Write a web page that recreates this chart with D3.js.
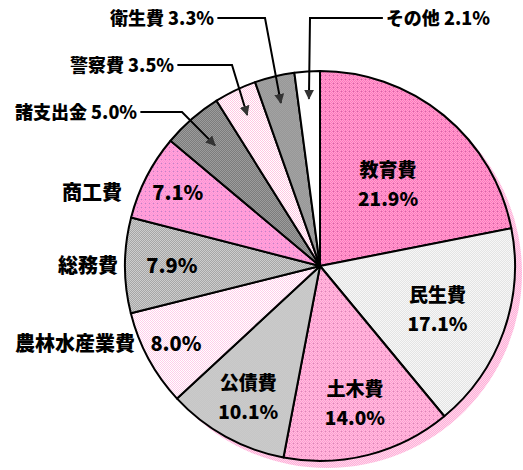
<!DOCTYPE html>
<html><head><meta charset="utf-8">
<script src="https://cdn.jsdelivr.net/npm/d3@7"></script>
<style>body{margin:0;background:#fff}svg{display:block}</style>
</head><body>
<svg id="c" width="523" height="470"></svg>
<script>
// data
const categories = ["教育費","民生費","土木費","公債費","農林水産業費","総務費","商工費","諸支出金","警察費","衛生費","その他"];
const values = [21.9,17.1,14.0,10.1,8.0,7.9,7.1,5.0,3.5,3.3,2.1];
const valueLabels = ["21.9%","17.1%","14.0%","10.1%","8.0%","7.9%","7.1%","5.0%","3.5%","3.3%","2.1%"];

const svg = d3.select("#c");
const cx = 320, cy = 266, R = 195;
const defs = svg.append("defs");
const pats = [
  ["#ff78bc","#ffa2d2","#c86aa6"],
  ["#e4e4e4","#f7f7f7",null],
  ["#ff9ccf","#ffbfe0","#d08ab6"],
  ["#c6c6c6","#cacaca",null],
  ["#ffffff","#ffcdea",null],
  ["#a6a6a6","#cdcdcd",null],
  ["#ff90d4","#ffa8dc","#b888c8"],
  ["#7c7c7c","#9c9c9c",null],
  ["#ffffff","#ffc6e2",null],
  ["#989898","#a2a2a2",null],
  ["#ffffff","#ffffff",null]
];
pats.forEach((p,i)=>{
  const pt = defs.append("pattern").attr("id","p"+i).attr("width",4).attr("height",4).attr("patternUnits","userSpaceOnUse");
  pt.append("rect").attr("width",4).attr("height",4).attr("fill",p[0]);
  [[0,0],[2,0],[1,1],[3,1],[0,2],[2,2],[1,3],[3,3]].forEach(([x,y])=>pt.append("rect").attr("x",x).attr("y",y).attr("width",1).attr("height",1).attr("fill",p[1]));
  if(p[2]) pt.append("rect").attr("x",1).attr("y",1).attr("width",1).attr("height",1).attr("fill",p[2]);
});
const sp = defs.append("pattern").attr("id","shadow").attr("width",2).attr("height",2).attr("patternUnits","userSpaceOnUse");
sp.append("rect").attr("width",2).attr("height",2).attr("fill","#ffb0d8");
sp.append("rect").attr("width",1).attr("height",1).attr("fill","#ffd6ec");
sp.append("rect").attr("x",1).attr("y",1).attr("width",1).attr("height",1).attr("fill","#ffd6ec");
defs.append("marker").attr("id","arr").attr("viewBox","0 0 10 10").attr("refX",9).attr("refY",5)
  .attr("markerWidth",5).attr("markerHeight",5).attr("orient","auto-start-reverse")
  .append("path").attr("d","M0,0L10,5L0,10z").attr("fill","#333");

const pie = d3.pie().sort(null).value(d=>d)(values);
const arc = d3.arc().innerRadius(0).outerRadius(R);
const g = svg.append("g").attr("transform",`translate(${cx},${cy})`);
g.append("circle").attr("cx",7).attr("cy",7).attr("r",R).attr("fill","url(#shadow)");
g.selectAll("path.s").data(pie).join("path").attr("class","s")
  .attr("d",arc).attr("fill",(d,i)=>`url(#p${i})`)
  .attr("stroke","#000").attr("stroke-width",2).attr("stroke-linejoin","round");

const font = "'Noto Sans CJK JP','Noto Sans',sans-serif";
const inside = {0:0.55,1:0.64,2:0.72,3:0.76};
Object.keys(inside).forEach(k=>{
  const i=+k, a=d3.arc().innerRadius(0).outerRadius(2*R*inside[k]);
  const [x,y]=a.centroid(pie[i]);
  g.append("text").attr("x",x).attr("y",y-6).attr("text-anchor","middle")
    .attr("font-family",font).attr("font-weight",900).attr("font-size",19).text(categories[i]);
  g.append("text").attr("x",x).attr("y",y+23).attr("text-anchor","middle")
    .attr("font-family",font).attr("font-weight",900).attr("font-size",19).text(valueLabels[i]);
});
const side = {4:[0.84,135],5:[0.76,118],6:[0.82,122]};
Object.keys(side).forEach(k=>{
  const i=+k, a=d3.arc().innerRadius(0).outerRadius(2*R*side[k][0]);
  const [x,y]=a.centroid(pie[i]);
  g.append("text").attr("x",x).attr("y",y+7).attr("text-anchor","middle")
    .attr("font-family",font).attr("font-weight",900).attr("font-size",20).text(valueLabels[i]);
  svg.append("text").attr("x",side[k][1]).attr("y",cy+y+7).attr("text-anchor","end")
    .attr("font-family",font).attr("font-weight",900).attr("font-size",20).text(categories[i]);
});
const callouts = [[7,15,119,"start",182,0.82],[8,70,72,"start",232,0.86],[9,110,25,"start",265,0.86],[10,490,25,"end",310,0.86]];
callouts.forEach(([i,tx,ty,anc,ex,rf])=>{
  const t = svg.append("text").attr("x",tx).attr("y",ty).attr("text-anchor",anc)
    .attr("font-family",font).attr("font-weight",900).attr("font-size",18)
    .text(categories[i]+" "+valueLabels[i]);
  const bb = t.node().getBBox();
  const a=d3.arc().innerRadius(0).outerRadius(2*R*rf);
  const [x,y]=a.centroid(pie[i]);
  const startX = anc==="start" ? bb.x+bb.width+3 : bb.x-3;
  const ly = ty-7;
  svg.append("path").attr("d",`M${startX},${ly}L${ex},${ly}L${cx+x},${cy+y}`)
    .attr("fill","none").attr("stroke","#000").attr("stroke-width",2).attr("marker-end","url(#arr)");
});
</script>
</body></html>
